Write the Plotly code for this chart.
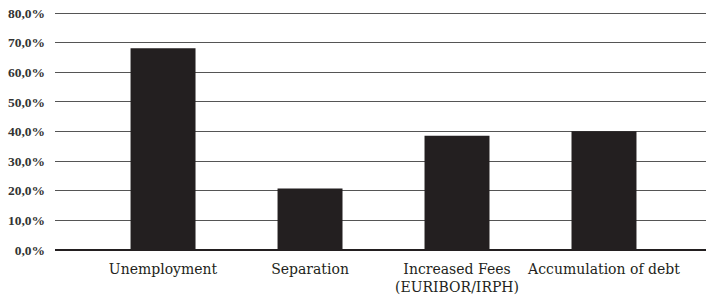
import plotly.graph_objects as go

categories = ["Unemployment", "Separation", "Increased Fees<br>(EURIBOR/IRPH)", "Accumulation of debt"]
values = [68.1, 20.8, 38.6, 40.1]
y_ticks = [0, 10, 20, 30, 40, 50, 60, 70, 80]
y_tick_labels = ["0,0%", "10,0%", "20,0%", "30,0%", "40,0%", "50,0%", "60,0%", "70,0%", "80,0%"]

fig = go.Figure(go.Bar(
    x=list(range(len(categories))), y=values,
    marker=dict(color="#231f20", line=dict(width=0)),
    width=0.442,
))

fig.update_layout(
    width=706, height=306,
    margin=dict(l=55, r=0, t=12, b=56, autoexpand=False),
    paper_bgcolor="white", plot_bgcolor="white",
    showlegend=False,
    font=dict(family="DejaVu Serif, Liberation Serif, serif", color="#231f20"),
)
fig.update_xaxes(
    tickmode="array", tickvals=list(range(len(categories))), ticktext=categories,
    range=[-0.735, 3.694], showgrid=False, zeroline=False, showline=False,
    ticks="", ticklabelstandoff=9, automargin=False,
    tickfont=dict(size=14, color="#231f20"),
)
fig.update_yaxes(
    range=[0, 80.35], tickmode="array", tickvals=y_ticks, ticktext=y_tick_labels,
    showgrid=True, gridcolor="#555555", gridwidth=1.2,
    zeroline=True, zerolinecolor="#231f20", zerolinewidth=2,
    showline=False, ticks="", ticklabelstandoff=9, automargin=False,
    tickfont=dict(family="Liberation Serif, serif", size=13.5, color="#333333", weight="bold"),
)

fig.write_html("out.html", config={"displayModeBar": False},
               post_script="document.body.style.margin='0';document.body.style.padding='0';")
